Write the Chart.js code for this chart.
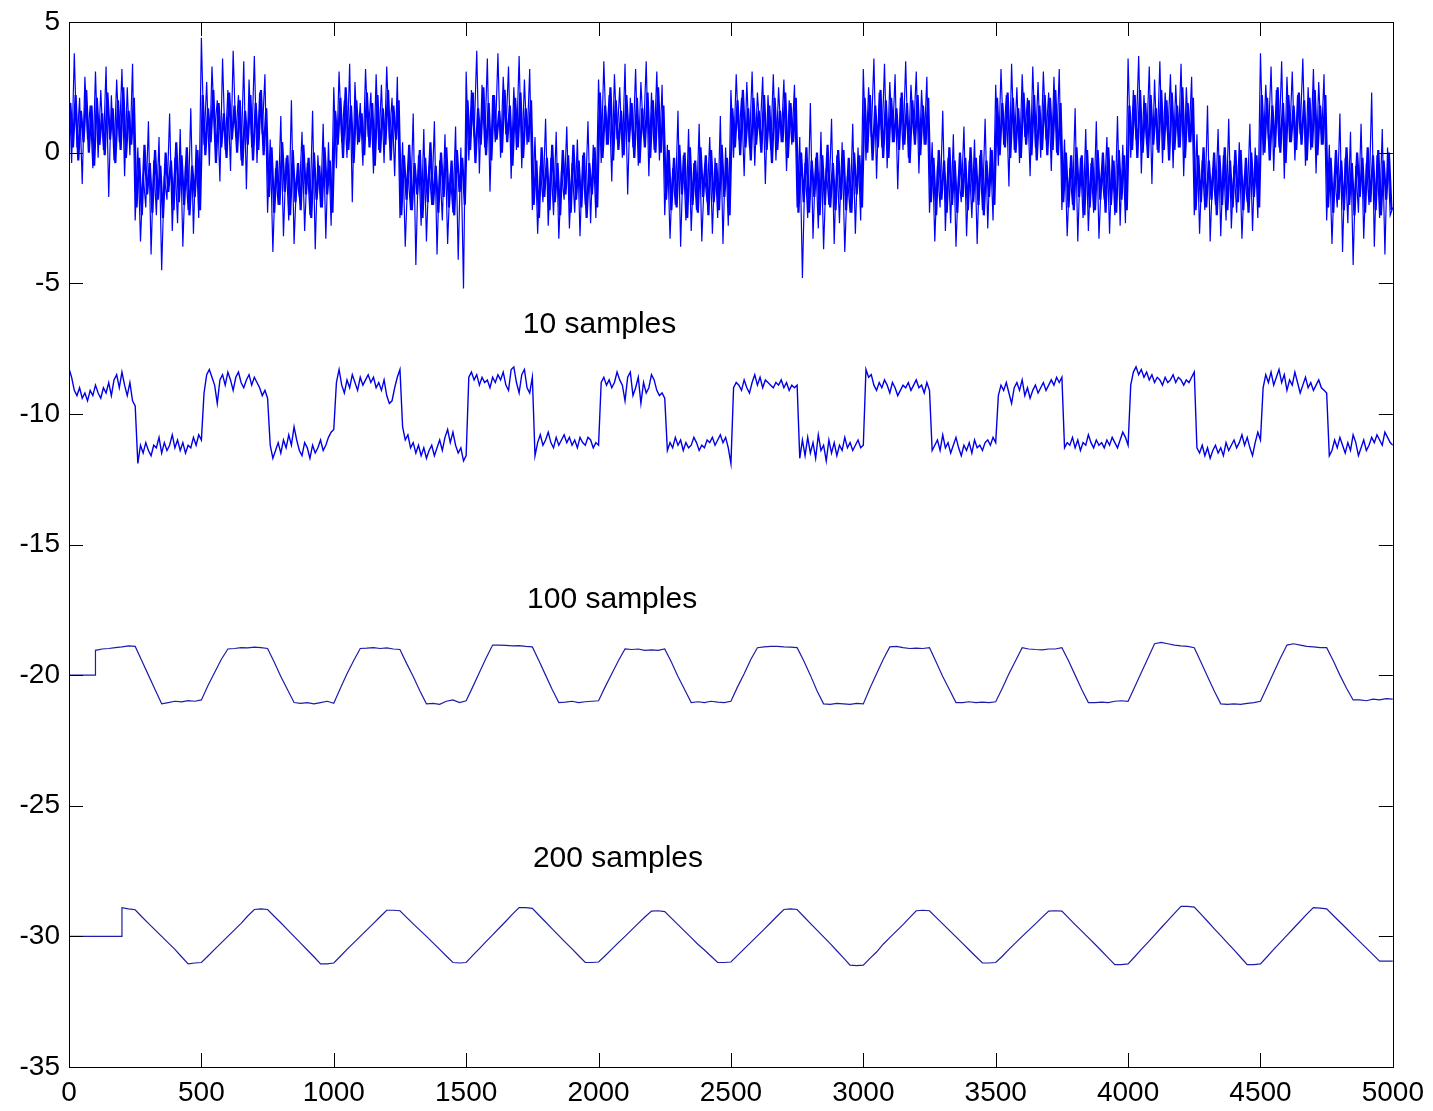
<!DOCTYPE html>
<html>
<head>
<meta charset="utf-8">
<title>Moving average of a noisy square wave</title>
<script src="https://cdn.jsdelivr.net/npm/chart.js@4"></script>
<style>
  html, body { margin: 0; padding: 0; background: #fff; }
  #wrap { width: 1433px; height: 1111px; }
  canvas { display: block; }
</style>
</head>
<body>
<div id="wrap"><canvas id="maChart" width="1433" height="1111"></canvas></div>
<script>
// raw signal, one reading every 10 samples (x = 0 .. 5000), the outer spikes
const rawStep = 10;
const rawSignal = [
  2.6, -0.4, 3.8, 0.2, 2.1, -1.2, 2.9, 0.5, 1.8, -0.6, 3.1, -0.2, 2.4, 0.1, 3.3, -1.7, 2.2, -0.3, 2.8, 0.4, 3.2, -0.9, 2.5, -0.1, 3.4,
  -2.6, 0.2, -3.4, -0.8, -2.1, 1.2, -3.9, -0.3, -2.4, 0.6, -4.5, -0.9, -1.8, 1.5, -3.0, -0.2, -2.7, 0.9, -3.6, -0.5, -2.2, 1.7, -3.1, 0.3, -2.5,
  4.4, 0.3, 2.7, -0.5, 3.3, 0.8, 2.0, -1.1, 3.6, 0.1, 2.4, -0.7, 3.9, 0.6, 2.2, -0.3, 3.5, -1.4, 2.8, 0.2, 3.7, -0.4, 2.3, 0.7, 3.0,
  -2.3, 0.5, -3.8, -0.6, -2.0, 1.4, -3.2, -0.2, -2.6, 2.0, -3.5, -0.9, -1.7, 0.8, -3.0, -0.4, -2.4, 1.6, -3.7, -0.1, -2.1, 1.1, -3.3, 0.4, -2.8,
  2.5, -0.6, 3.1, 0.4, 2.0, -0.2, 3.4, -1.9, 2.7, 0.3, 1.9, -0.5, 3.2, 0.6, 2.3, -0.8, 3.0, 0.1, 2.6, -0.4, 3.3, 0.5, 2.1, -0.9, 2.9,
  -2.5, 0.4, -3.6, -0.7, -2.2, 1.5, -4.3, -0.1, -2.8, 0.9, -3.4, -0.5, -2.0, 1.2, -3.9, -0.3, -2.6, 0.7, -3.5, -0.8, -2.3, 1.0, -4.1, 0.2, -5.2,
  3.1, -0.3, 2.4, 0.6, 3.9, -0.8, 2.6, 0.2, 3.6, -1.5, 2.2, 0.4, 3.8, -0.2, 2.9, 0.7, 3.3, -1.0, 2.5, 0.1, 3.7, -0.6, 2.8, 0.3, 3.2,
  -2.2, 0.6, -3.1, -0.5, -1.9, 1.3, -2.8, -0.2, -2.4, 0.8, -3.3, -0.7, -1.8, 1.0, -2.9, -0.4, -2.3, 0.5, -3.2, -0.1, -2.0, 1.2, -2.7, 0.3, -2.5,
  2.8, -0.4, 3.5, 0.3, 2.2, -1.1, 3.0, 0.5, 2.5, -0.2, 3.4, -1.6, 2.1, 0.2, 3.2, -0.5, 2.7, 0.6, 3.5, -0.9, 2.3, 0.1, 3.1, -0.3, 2.6,
  -2.4, 0.3, -3.3, -0.6, -2.0, 1.6, -3.6, -0.1, -2.6, 0.9, -3.0, -0.4, -2.2, 1.1, -3.4, -0.8, -1.9, 0.6, -3.1, -0.2, -2.5, 1.4, -3.5, 0.2, -2.8,
  2.4, -0.2, 3.0, 0.5, 2.1, -0.9, 2.7, 0.2, 3.1, -0.5, 2.3, 0.7, 2.9, -1.2, 2.2, 0.1, 3.0, -0.3, 2.5, 0.4, 2.8, -0.7, 2.0, 0.3, 2.6,
  -2.1, 0.6, -4.8, -0.4, -2.5, 1.9, -3.3, -0.2, -2.9, 0.8, -3.7, -0.6, -2.0, 1.3, -3.5, -0.1, -2.7, 0.4, -3.8, -0.9, -2.3, 1.1, -3.1, 0.2, -2.6,
  3.2, -0.3, 2.5, 0.6, 3.6, -1.0, 2.3, 0.2, 3.4, -0.6, 2.7, 0.4, 3.0, -1.4, 2.1, 0.1, 3.5, -0.2, 2.6, 0.7, 3.1, -0.8, 2.4, 0.3, 2.9,
  -2.3, 0.4, -3.4, -0.5, -2.1, 1.6, -3.0, -0.2, -2.7, 0.7, -3.6, -0.8, -1.9, 1.0, -3.2, -0.3, -2.5, 0.5, -3.5, -0.1, -2.2, 1.3, -2.9, 0.2, -2.6,
  2.6, -0.5, 3.2, 0.3, 2.2, -1.3, 3.4, 0.1, 2.5, -0.4, 3.0, 0.6, 2.1, -0.9, 3.3, 0.2, 2.7, -0.2, 3.1, 0.5, 2.3, -0.7, 2.9, 0.0, 3.2,
  -2.2, 0.5, -3.2, -0.6, -2.0, 1.7, -3.4, -0.2, -2.5, 0.9, -3.0, -0.4, -2.3, 1.2, -3.3, -0.7, -1.8, 0.6, -3.1, -0.1, -2.4, 1.4, -2.8, 0.3, -2.7,
  3.6, -0.2, 2.4, 0.5, 3.7, -0.8, 2.2, 0.3, 3.3, -1.2, 2.8, 0.1, 3.5, -0.4, 2.3, 0.6, 3.0, -0.6, 2.6, 0.2, 3.4, -0.9, 2.5, 0.4, 2.9,
  -2.4, 0.7, -3.1, -0.3, -2.2, 1.8, -3.4, -0.6, -2.0, 0.9, -3.2, -0.1, -2.6, 1.3, -2.9, -0.5, -2.3, 0.4, -3.3, -0.8, -1.9, 1.1, -3.0, 0.2, -2.5,
  3.8, -0.1, 2.6, 0.5, 3.3, -0.7, 2.4, 0.2, 3.5, -1.0, 2.9, 0.4, 3.1, -0.3, 2.2, 0.7, 3.6, -0.5, 2.5, 0.1, 3.2, -0.8, 2.7, 0.3, 3.0,
  -2.6, 0.3, -3.5, -0.7, -2.1, 1.5, -3.8, -0.2, -2.7, 0.8, -4.3, -0.5, -2.3, 1.1, -3.3, -0.4, -2.0, 2.3, -3.6, -0.1, -2.5, 0.9, -3.9, 0.2, -2.4,
  -2.1
];

// raw samples in between (x = 5, 15, .. 4995), the dense core of the band
const rawInner = [
  1.9, 0.2, 2.2, -0.3, 1.6, 0.4, 2.4, 0.0, 1.8, -0.5, 2.1, 0.3, 1.5, -0.1, 2.3, 0.5, 1.7, -0.4, 2.0, 0.1, 2.5, -0.2, 1.6, 0.3, 2.1,
  -2.1, -0.2, -2.4, 0.3, -1.6, -0.4, -2.3, 0.1, -1.8, -0.5, -2.5, 0.0, -1.5, -0.3, -2.2, 0.4, -1.9, -0.1, -2.0, 0.2, -2.4, -0.5, -1.7, 0.1, -2.2,
  2.2, -0.1, 1.7, 0.4, 2.4, -0.4, 1.9, 0.2, 1.5, -0.2, 2.3, 0.5, 1.8, 0.0, 2.0, -0.5, 1.6, 0.3, 2.2, -0.3, 1.9, 0.1, 2.4, -0.1, 1.7,
  -1.7, 0.2, -2.3, -0.3, -2.0, 0.4, -1.5, -0.1, -2.4, 0.1, -1.9, -0.4, -2.2, 0.3, -1.6, -0.2, -2.5, 0.0, -1.8, -0.5, -2.1, 0.2, -1.6, -0.3, -2.3,
  1.6, 0.3, 2.1, -0.2, 2.5, 0.1, 1.8, -0.4, 2.0, 0.4, 1.5, -0.1, 2.3, 0.2, 1.9, -0.5, 2.2, 0.0, 1.7, 0.3, 2.4, -0.3, 1.8, 0.5, 2.0,
  -2.4, -0.1, -1.8, 0.3, -2.2, -0.4, -1.6, 0.1, -2.5, -0.2, -1.9, 0.4, -2.0, -0.5, -2.3, 0.0, -1.7, 0.2, -2.1, -0.3, -2.4, 0.1, -1.5, -0.2, -2.0,
  2.0, 0.1, 2.3, -0.4, 1.7, 0.3, 2.5, -0.1, 1.9, -0.3, 2.2, 0.5, 1.6, 0.0, 2.4, 0.4, 1.8, -0.5, 2.1, 0.2, 2.3, -0.2, 1.7, 0.4, 2.0,
  -2.0, -0.3, -2.5, 0.2, -1.7, -0.2, -2.2, 0.3, -1.9, -0.4, -2.4, 0.1, -1.6, -0.1, -2.3, 0.3, -1.8, -0.3, -2.1, 0.0, -2.5, -0.4, -1.6, 0.2, -2.1,
  2.3, -0.2, 1.8, 0.3, 2.5, -0.3, 2.0, 0.1, 1.6, -0.1, 2.2, 0.4, 1.9, -0.2, 2.1, -0.4, 1.7, 0.2, 2.3, -0.2, 2.0, 0.0, 2.5, 0.0, 1.8,
  -1.8, 0.1, -2.2, -0.2, -2.1, 0.3, -1.6, 0.0, -2.5, 0.2, -2.0, -0.3, -2.3, 0.2, -1.7, -0.1, -2.4, 0.1, -1.9, -0.4, -2.2, 0.3, -1.7, -0.2, -2.4,
  1.7, 0.2, 2.0, -0.1, 2.4, 0.2, 1.7, -0.3, 2.1, 0.3, 1.6, 0.0, 2.2, 0.1, 1.8, -0.4, 2.1, 0.1, 1.6, 0.4, 2.3, -0.2, 1.9, 0.4, 2.1,
  -2.3, 0.0, -1.9, 0.2, -2.3, -0.3, -1.7, 0.0, -2.4, -0.1, -2.0, 0.3, -2.1, -0.4, -2.2, 0.1, -1.8, 0.1, -2.2, -0.2, -2.3, 0.0, -1.6, -0.1, -2.1,
  2.1, 0.0, 2.2, -0.3, 1.8, 0.2, 2.4, -0.2, 2.0, -0.2, 2.1, 0.4, 1.7, 0.1, 2.3, 0.3, 1.9, -0.4, 2.0, 0.3, 2.2, -0.1, 1.8, 0.3, 2.1,
  -1.9, -0.2, -2.4, 0.1, -1.8, -0.3, -2.3, 0.2, -2.0, -0.3, -2.3, 0.0, -1.7, -0.2, -2.2, 0.2, -1.9, -0.2, -2.0, 0.1, -2.4, -0.3, -1.7, 0.1, -2.0,
  2.1, -0.1, 1.9, 0.2, 2.3, -0.2, 2.1, 0.0, 1.7, -0.2, 2.3, 0.3, 2.0, -0.1, 2.2, -0.3, 1.8, 0.1, 2.2, -0.1, 2.1, 0.1, 2.4, -0.1, 1.9,
  -1.9, 0.0, -2.1, -0.1, -2.2, 0.2, -1.7, -0.1, -2.4, 0.1, -2.1, -0.2, -2.2, 0.1, -1.8, 0.0, -2.3, 0.2, -2.0, -0.3, -2.3, 0.1, -1.8, -0.1, -2.2,
  1.8, 0.1, 2.2, -0.2, 2.4, 0.0, 1.9, -0.2, 2.2, 0.3, 1.7, 0.0, 2.4, 0.1, 2.0, -0.3, 2.3, 0.1, 1.8, 0.2, 2.5, -0.2, 1.9, 0.4, 2.1,
  -2.2, -0.1, -1.9, 0.2, -2.1, -0.3, -1.8, 0.0, -2.4, -0.1, -2.0, 0.2, -2.2, -0.3, -2.1, 0.1, -1.9, 0.1, -2.2, -0.2, -2.3, 0.0, -1.7, -0.1, -2.1,
  2.2, 0.0, 2.1, -0.3, 1.8, 0.2, 2.5, 0.0, 1.9, -0.4, 2.2, 0.4, 1.8, 0.1, 2.3, 0.3, 2.0, -0.3, 2.1, 0.2, 2.4, -0.1, 1.8, 0.3, 2.2,
  -2.1, -0.2, -2.3, 0.1, -1.8, -0.3, -2.2, 0.2, -2.0, -0.4, -2.4, 0.0, -1.7, -0.2, -2.3, 0.2, -1.9, -0.1, -2.2, 0.1, -2.4, -0.3, -1.8, 0.0, -2.2
];

// 10-sample average shifted by -10; first two points at x = 0 and 1, then every 10 samples
const avg10LeadX = [0, 1];
const avg10Lead = [0, -8.3];
const avg10Step = 10;
const avg10 = [
  -8.6, -9.1, -9.3, -9.0, -9.4, -9.2, -9.5, -9.1, -9.3, -8.9, -9.2, -9.4, -9.0, -9.2, -8.8, -9.3, -8.7, -8.5, -9.0, -8.4, -8.9, -9.3, -8.8, -9.5, -9.7,
  -11.9, -11.2, -11.5, -11.1, -11.4, -11.6, -11.2, -11.3, -10.9, -11.5, -11.1, -11.4, -11.2, -10.8, -11.3, -11.0, -11.4, -11.1, -11.5, -11.2, -11.3, -10.9, -11.2, -10.8, -11.0,
  -9.2, -8.5, -8.3, -8.6, -8.9, -9.6, -8.7, -8.5, -8.9, -8.4, -8.7, -9.1, -8.6, -8.4, -8.8, -9.0, -8.7, -8.5, -8.9, -8.6, -8.8, -9.0, -9.3, -9.1, -9.4,
  -11.2, -11.7, -11.4, -11.1, -11.5, -11.0, -11.3, -10.8, -11.2, -10.5, -11.0, -11.4, -11.6, -11.1, -11.3, -11.7, -11.2, -11.5, -11.3, -11.0, -11.4, -11.2, -10.9, -10.7, -10.6,
  -8.8, -8.3, -8.9, -9.2, -8.7, -9.0, -8.5, -8.8, -9.1, -8.6, -8.9, -8.7, -8.5, -8.8, -8.6, -9.0, -8.8, -9.1, -8.7, -9.3, -9.6, -9.5, -9.0, -8.6, -8.3,
  -10.5, -11.0, -10.8, -11.3, -11.1, -11.5, -11.2, -11.6, -11.3, -11.7, -11.4, -11.2, -11.6, -11.3, -11.0, -11.4, -10.9, -10.6, -11.1, -10.7, -11.2, -11.5, -11.3, -11.8, -11.6,
  -8.6, -8.4, -8.7, -8.5, -8.9, -8.6, -8.8, -8.7, -9.0, -8.6, -8.8, -8.5, -8.7, -8.4, -8.9, -9.1, -8.3, -8.2, -8.8, -9.2, -8.5, -8.3, -9.0, -9.2, -8.6,
  -11.6, -11.1, -10.8, -11.2, -11.0, -10.7, -11.1, -11.3, -10.9, -11.2, -11.0, -10.8, -11.1, -10.9, -11.2, -11.0, -11.3, -10.9, -11.1, -11.2, -10.9, -11.0, -11.3, -11.1, -11.2,
  -8.8, -8.6, -8.9, -8.7, -9.0, -8.8, -8.4, -8.7, -8.9, -9.5, -8.6, -8.4, -9.3, -9.0, -8.6, -9.6, -8.8, -9.2, -9.0, -8.5, -8.7, -9.1, -9.3, -9.2, -9.4,
  -11.4, -11.1, -11.3, -10.9, -11.2, -11.0, -11.4, -11.1, -11.3, -11.2, -10.9, -11.1, -11.4, -11.2, -11.3, -11.0, -11.1, -10.9, -11.2, -11.0, -10.8, -11.1, -10.9, -11.3, -11.9,
  -9.0, -8.8, -8.9, -9.1, -8.7, -9.0, -9.2, -8.8, -8.5, -8.9, -8.6, -9.0, -8.7, -8.8, -8.9, -9.0, -8.8, -8.9, -8.7, -9.0, -8.8, -9.1, -8.9, -9.0, -8.9,
  -11.7, -11.0, -11.6, -10.9, -11.5, -11.1, -11.7, -10.8, -11.4, -11.2, -11.8, -11.0, -11.5, -11.1, -11.6, -11.2, -11.4, -10.9, -11.3, -11.1, -11.4, -11.2, -11.0, -11.3, -11.2,
  -8.3, -8.6, -8.5, -8.9, -9.1, -8.8, -9.0, -8.7, -8.9, -9.2, -8.8, -9.0, -9.3, -9.1, -8.9, -9.0, -8.8, -9.1, -8.9, -8.7, -9.0, -8.9, -9.2, -8.8, -9.1,
  -11.4, -11.2, -11.0, -11.4, -10.8, -11.3, -11.1, -11.5, -11.2, -10.9, -11.3, -11.6, -11.2, -11.4, -11.1, -11.5, -11.0, -11.3, -11.2, -11.4, -11.1, -11.0, -11.2, -10.9, -11.1,
  -9.3, -8.9, -9.1, -8.8, -9.2, -9.6, -9.0, -8.8, -9.1, -8.7, -9.3, -9.0, -9.4, -9.1, -8.9, -9.2, -9.0, -8.8, -9.1, -8.9, -8.7, -8.9, -8.6, -8.8, -8.6,
  -11.3, -11.1, -11.2, -10.9, -11.3, -11.0, -11.4, -11.1, -11.2, -10.8, -11.1, -11.3, -11.0, -11.2, -11.1, -11.3, -11.0, -11.2, -10.9, -11.1, -11.3, -11.0, -10.7, -10.9, -11.2,
  -8.9, -8.4, -8.2, -8.5, -8.3, -8.6, -8.4, -8.7, -8.5, -8.8, -8.6, -8.7, -8.9, -8.6, -8.8, -8.7, -8.5, -8.8, -8.6, -8.7, -8.9, -8.7, -8.8, -8.6, -8.4,
  -11.3, -11.5, -11.2, -11.6, -11.3, -11.7, -11.4, -11.2, -11.5, -11.3, -11.6, -11.1, -11.4, -11.2, -11.0, -11.3, -11.1, -10.8, -11.2, -10.9, -11.3, -11.6, -11.1, -10.7, -11.0,
  -9.0, -8.5, -8.8, -8.4, -8.9, -8.6, -8.3, -8.8, -8.5, -9.1, -8.7, -8.9, -8.4, -8.8, -9.2, -8.9, -8.6, -9.0, -8.8, -9.1, -8.9, -8.7, -9.0, -9.1, -9.2,
  -11.6, -11.4, -11.0, -11.3, -10.9, -11.2, -11.5, -11.1, -11.4, -10.8, -11.1, -11.6, -11.3, -11.0, -11.4, -11.2, -10.9, -11.1, -10.8, -11.0, -11.2, -10.7, -10.9, -11.1, -11.2
];

// 100-sample average shifted by -20: flat -20 until x = 100, then every 25 samples from x = 100
const avg100LeadX = [0, 100];
const avg100Lead = [-20, -20];
const avgStep = 25;
const avg100 = [
  -19.05, -19.0, -18.98, -18.95, -18.92, -18.88, -18.9,
  -19.45, -20.0, -20.55, -21.1, -21.05, -21.0, -21.02, -20.98, -21.0, -20.95, -20.4, -19.9, -19.4, -19.0,
  -18.98, -18.95, -18.96, -18.93, -18.95, -18.98, -19.5, -20.05, -20.55, -21.05, -21.08, -21.05, -21.1, -21.05, -21.0, -21.08, -20.5, -19.95, -19.45, -18.98,
  -18.97, -18.95, -18.98, -18.96, -19.0, -19.02, -19.55, -20.05, -20.6, -21.1, -21.08, -21.12, -21.0, -20.95, -21.05, -20.98, -20.45, -19.9, -19.35, -18.85,
  -18.85, -18.86, -18.88, -18.87, -18.9, -18.92, -19.45, -20.0, -20.55, -21.05, -21.03, -21.0, -21.05, -21.02, -21.0, -20.98, -20.45, -19.95, -19.45, -19.0,
  -19.02, -19.0, -19.05, -19.03, -19.05, -19.0, -19.5, -20.05, -20.55, -21.05, -21.02, -21.05, -21.0, -21.03, -21.05, -21.0, -20.45, -19.95, -19.4, -18.95,
  -18.92, -18.9, -18.9, -18.92, -18.93, -18.95, -19.45, -20.0, -20.6, -21.1, -21.12, -21.08, -21.1, -21.12, -21.08, -21.1, -20.5, -19.95, -19.4, -18.92,
  -18.9, -18.95, -18.98, -18.97, -18.98, -18.95, -19.5, -20.05, -20.55, -21.05, -21.05, -21.02, -21.05, -21.03, -21.05, -21.02, -20.5, -19.95, -19.45, -18.95,
  -19.0, -19.02, -19.03, -19.0, -19.0, -18.95, -19.45, -20.0, -20.55, -21.05, -21.05, -21.03, -21.05, -21.0, -20.98, -21.0, -20.45, -19.9, -19.35, -18.8,
  -18.75, -18.8, -18.85, -18.88, -18.9, -18.95, -19.5, -20.05, -20.6, -21.1, -21.12, -21.1, -21.12, -21.08, -21.05, -21.0, -20.45, -19.9, -19.35, -18.85,
  -18.8, -18.85, -18.9, -18.92, -18.95, -18.95, -19.45, -20.0, -20.5, -20.95, -20.95, -20.98, -20.92, -20.95, -20.9, -20.92
];

// 200-sample average shifted by -30: flat -30 until x = 200, then every 25 samples from x = 200
const avg200LeadX = [0, 200];
const avg200Lead = [-30, -30];
const avg200 = [
  -28.9, -28.95, -28.98,
  -29.25, -29.5, -29.75, -30.0, -30.25, -30.5, -30.78, -31.05, -31.02, -31.0,
  -30.75, -30.5, -30.25, -30.0, -29.75, -29.5, -29.22, -28.97, -28.95, -28.97,
  -29.23, -29.48, -29.74, -30.0, -30.26, -30.52, -30.78, -31.05, -31.05, -31.02,
  -30.76, -30.5, -30.25, -30.0, -29.75, -29.5, -29.25, -29.0, -29.0, -29.02,
  -29.27, -29.52, -29.76, -30.0, -30.25, -30.5, -30.75, -31.0, -31.02, -31.0,
  -30.73, -30.47, -30.2, -29.94, -29.68, -29.42, -29.15, -28.9, -28.9, -28.93,
  -29.19, -29.45, -29.71, -29.97, -30.23, -30.48, -30.74, -31.0, -31.0, -30.98,
  -30.74, -30.49, -30.24, -30.0, -29.75, -29.5, -29.26, -29.03, -29.02, -29.05,
  -29.3, -29.55, -29.8, -30.05, -30.3, -30.52, -30.76, -31.0, -31.0, -30.98,
  -30.73, -30.48, -30.23, -29.98, -29.73, -29.48, -29.22, -28.97, -28.95, -28.97,
  -29.24, -29.5, -29.76, -30.02, -30.28, -30.55, -30.82, -31.1, -31.12, -31.1,
  -30.84, -30.6, -30.3, -30.05, -29.8, -29.55, -29.28, -29.02, -29.0, -29.02,
  -29.27, -29.52, -29.77, -30.02, -30.27, -30.52, -30.77, -31.02, -31.02, -31.0,
  -30.76, -30.5, -30.25, -30.0, -29.76, -29.52, -29.27, -29.03, -29.02, -29.03,
  -29.29, -29.55, -29.8, -30.05, -30.3, -30.56, -30.82, -31.08, -31.08, -31.05,
  -30.78, -30.5, -30.23, -29.95, -29.67, -29.4, -29.12, -28.85, -28.85, -28.88,
  -29.15, -29.42, -29.7, -29.97, -30.25, -30.52, -30.8, -31.08, -31.08, -31.05,
  -30.78, -30.5, -30.23, -29.96, -29.69, -29.42, -29.15, -28.9, -28.92, -28.95,
  -29.2, -29.45, -29.7, -29.95, -30.2, -30.45, -30.7, -30.95, -30.95, -30.95
];

const xTicks = [0, 500, 1000, 1500, 2000, 2500, 3000, 3500, 4000, 4500, 5000];
const yTicks = [5, 0, -5, -10, -15, -20, -25, -30, -35];
const noteText = ['10 samples', '100 samples', '200 samples'];

document.addEventListener('DOMContentLoaded', () => {
    const fontFamily = '"Liberation Sans", Arial, Helvetica, sans-serif';

    const toPoints = (ys, x0, step) => ys.map((y, i) => ({ x: Math.min(x0 + i * step, 5000), y }));
    const leadPoints = (xs, ys) => xs.map((x, i) => ({ x, y: ys[i] }));

    const rawPts = toPoints(rawSignal, 0, rawStep);
    const innerPts = toPoints(rawInner, rawStep / 2, rawStep);
    const pts10 = leadPoints(avg10LeadX, avg10Lead).concat(toPoints(avg10, avg10Step, avg10Step));
    const pts100 = leadPoints(avg100LeadX, avg100Lead).concat(toPoints(avg100, avg100LeadX[1], avgStep));
    const pts200 = leadPoints(avg200LeadX, avg200Lead).concat(toPoints(avg200, avg200LeadX[1], avgStep));

    // box round the plot, inward ticks on all four sides, and the text notes
    const matlabFrame = {
        id: 'matlabFrame',
        afterDraw(chart, args, opts) {
            const { ctx, chartArea: a, scales: { x, y } } = chart;
            const tl = opts.tickLength;
            ctx.save();
            ctx.strokeStyle = '#000';
            ctx.lineWidth = 1;
            ctx.beginPath();
            x.ticks.forEach(t => {
                const px = Math.round(x.getPixelForValue(t.value)) + 0.5;
                ctx.moveTo(px, a.bottom); ctx.lineTo(px, a.bottom - tl);
                ctx.moveTo(px, a.top); ctx.lineTo(px, a.top + tl);
            });
            y.ticks.forEach(t => {
                const py = Math.round(y.getPixelForValue(t.value)) + 0.5;
                ctx.moveTo(a.left, py); ctx.lineTo(a.left + tl, py);
                ctx.moveTo(a.right, py); ctx.lineTo(a.right - tl, py);
            });
            ctx.stroke();
            ctx.strokeRect(Math.round(a.left) + 0.5, Math.round(a.top) + 0.5,
                Math.round(a.right - a.left), Math.round(a.bottom - a.top));

            ctx.fillStyle = '#000';
            ctx.font = opts.noteSize + 'px ' + fontFamily;
            ctx.textAlign = 'left';
            ctx.textBaseline = 'alphabetic';
            opts.notes.forEach(n => {
                ctx.fillText(n.text, x.getPixelForValue(n.x), y.getPixelForValue(n.y));
            });
            ctx.restore();
        }
    };

    const lineSet = (data, color, width) => ({
        data,
        borderColor: color,
        borderWidth: width,
        pointRadius: 0,
        tension: 0,
        fill: false
    });

    new Chart(document.getElementById('maChart'), {
        type: 'line',
        data: {
            datasets: [
                lineSet(innerPts, '#0000ff', 2.2),
                lineSet(rawPts, '#0000ff', 1.2),
                lineSet(pts10, '#0000e6', 1.4),
                lineSet(pts100, '#1c1ca8', 1.2),
                lineSet(pts200, '#1c1ca8', 1.2)
            ]
        },
        options: {
            responsive: false,
            animation: false,
            events: [],
            layout: { padding: { top: 22, right: 40, left: 0, bottom: 0 } },
            plugins: {
                legend: { display: false },
                tooltip: { enabled: false },
                matlabFrame: {
                    tickLength: 14,
                    noteSize: 30,
                    notes: [
                        { text: noteText[0], x: 1714, y: -6.9 },
                        { text: noteText[1], x: 1730, y: -17.43 },
                        { text: noteText[2], x: 1752, y: -27.34 }
                    ]
                }
            },
            scales: {
                x: {
                    type: 'linear',
                    min: 0,
                    max: 5000,
                    afterBuildTicks: s => { s.ticks = xTicks.map(v => ({ value: v })); },
                    afterFit: s => { s.height = 44; },
                    grid: { display: false, drawTicks: false },
                    border: { display: false },
                    ticks: { color: '#000', padding: 9, maxRotation: 0, autoSkip: false,
                             callback: v => String(v),
                             font: { family: fontFamily, size: 28 } }
                },
                y: {
                    type: 'linear',
                    min: -35,
                    max: 5,
                    afterBuildTicks: s => { s.ticks = yTicks.map(v => ({ value: v })); },
                    afterFit: s => { s.width = 69; },
                    grid: { display: false, drawTicks: false },
                    border: { display: false },
                    ticks: { color: '#000', padding: 9, autoSkip: false,
                             callback: v => String(v),
                             font: { family: fontFamily, size: 28, lineHeight: 0.9 } }
                }
            }
        },
        plugins: [matlabFrame]
    });
});
</script>
</body>
</html>
